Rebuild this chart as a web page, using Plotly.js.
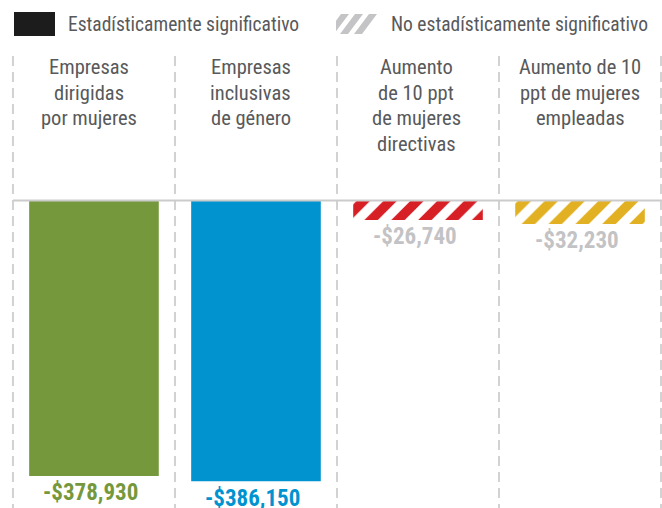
<!DOCTYPE html>
<html>
<head>
<meta charset="utf-8">
<script src="https://cdn.plot.ly/plotly-3.0.1.min.js"></script>
<style>html,body{margin:0;padding:0;background:#fff;}#chart{width:662px;height:508px;}</style>
</head>
<body>
<div id="chart"></div>
<script>
// ---- data ----
var categories = [
  "Empresas<br>dirigidas<br>por mujeres",
  "Empresas<br>inclusivas<br>de género",
  "Aumento<br>de 10 ppt<br>de mujeres<br>directivas",
  "Aumento de 10<br>ppt de mujeres<br>empleadas"
];
var values = [-378930, -386150, -26740, -32230];
var valueLabels = ["-$378,930", "-$386,150", "-$26,740", "-$32,230"];
var significant = [true, true, false, false];
var legendLabels = ["Estadísticamente significativo", "No estadísticamente significativo"];

// ---- styles ----
var barColors = ["#76983d", "#0093d0", "#d71f26", "#e2b123"];
var labelColors = ["#76983d", "#0093d0", "#c3c3c5", "#c3c3c5"];
var FONT = '"Liberation Sans Narrow", "Arial Narrow", "Roboto Condensed", sans-serif';
var W = 662, H = 508;
function px(x){ return x / W; }
function py(y){ return 1 - y / H; }

var xIdx = categories.map(function(_, i){ return i; });

var trace = {
  type: "bar",
  x: xIdx,
  y: values,
  width: 0.8,
  marker: {
    color: barColors,
    line: {width: 0},
    pattern: {
      shape: significant.map(function(s){ return s ? "" : "/"; }),
      bgcolor: "#ffffff",
      size: 19,
      solidity: 0.5,
      fillmode: "replace"
    }
  },
  hoverinfo: "skip"
};

var shapes = [];
// dashed column separators
[-0.5, 0.5, 1.5, 2.5, 3.5].forEach(function(xv){
  shapes.push({type: "line", xref: "x", yref: "paper", x0: xv, x1: xv, y0: py(56), y1: 0,
    line: {color: "#d2d2d2", width: 2, dash: "10px,6px"}, layer: "below"});
});
// zero line
shapes.push({type: "line", xref: "x", yref: "y", x0: -0.5, x1: 3.6, y0: 0, y1: 0,
  line: {color: "#cbcbcb", width: 2}, layer: "above"});
// legend: solid swatch
shapes.push({type: "rect", xref: "paper", yref: "paper", x0: px(14), x1: px(55), y0: py(12), y1: py(36),
  fillcolor: "#1c1c1c", line: {width: 0}});
// legend: hatched swatch
var hatch = [
  [[341,14],[349,14],[336,31.3],[336,20.7]],
  [[355,14],[363,14],[348,34],[340,34]],
  [[369,14],[377,14],[362,34],[354,34]]
];
hatch.forEach(function(poly){
  var d = poly.map(function(p, k){ return (k ? "L" : "M") + px(p[0]) + "," + py(p[1]); }).join(" ") + " Z";
  shapes.push({type: "path", xref: "paper", yref: "paper", path: d, fillcolor: "#c4c4c6", line: {width: 0}});
});

var annotations = [];
// legend texts
annotations.push({xref: "paper", yref: "paper", x: px(66), y: py(24), xanchor: "left", yanchor: "middle",
  text: legendLabels[0], showarrow: false, font: {family: FONT, size: 19.5, color: "#58595b"}});
annotations.push({xref: "paper", yref: "paper", x: px(389), y: py(24), xanchor: "left", yanchor: "middle",
  text: legendLabels[1], showarrow: false, font: {family: FONT, size: 19.5, color: "#58595b"}});

// column headers (one annotation per line for exact spacing)
var headerShift = [-5, -5, -2, 0];
categories.forEach(function(cat, i){
  cat.split("<br>").forEach(function(line, j){
    annotations.push({xref: "x", yref: "paper", x: i, y: py(67 + 25.6 * j), xanchor: "center", yanchor: "middle",
      xshift: headerShift[i], text: line, showarrow: false,
      font: {family: FONT, size: 20.5, color: "#58595b"}});
  });
});

// value labels
values.forEach(function(v, i){
  annotations.push({xref: "x", yref: "y", x: i, y: v, xanchor: "center", yanchor: "middle",
    xshift: -3, yshift: -17, text: "<b>" + valueLabels[i] + "</b>", showarrow: false,
    font: {family: FONT, size: 23, color: labelColors[i]}});
});

var layout = {
  width: W, height: H,
  margin: {l: 0, r: 0, t: 0, b: 0, pad: 0},
  paper_bgcolor: "#ffffff",
  plot_bgcolor: "#ffffff",
  showlegend: false,
  xaxis: {range: [-0.58, 3.506], showgrid: false, zeroline: false, showticklabels: false, ticks: "", showline: false, fixedrange: true},
  yaxis: {range: [-423000, 275800], showgrid: false, zeroline: false, showticklabels: false, ticks: "", showline: false, fixedrange: true},
  bargap: 0.2,
  shapes: shapes,
  annotations: annotations
};

Plotly.newPlot("chart", [trace], layout, {displayModeBar: false, staticPlot: true});
</script>
</body>
</html>
